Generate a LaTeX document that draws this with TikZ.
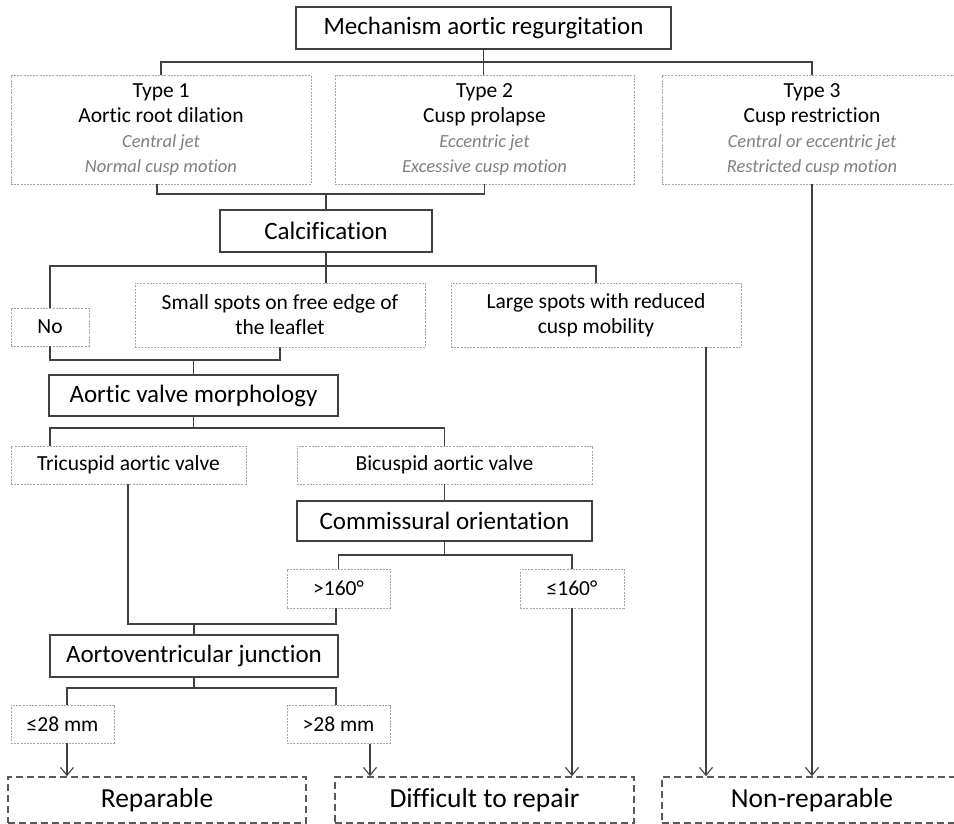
\documentclass[tikz,border=0pt]{standalone}
\usepackage{fontspec}
\setmainfont{Carlito}[Ligatures=NoCommon]
\usetikzlibrary{arrows.meta}
\definecolor{lineC}{HTML}{404040}
\definecolor{dashC}{HTML}{A6A6A6}
\definecolor{bottomC}{HTML}{595959}
\definecolor{italC}{HTML}{7F7F7F}
\tikzset{
  solidbox/.style={draw=lineC, line width=1.3pt, inner sep=0pt, align=center, font=\fontsize{25}{29}\selectfont},
  greybox/.style={draw=dashC, line width=0.8pt, dash pattern=on 2pt off 1.2pt, inner sep=0pt, align=center, font=\fontsize{21.5}{25}\selectfont},
  endbox/.style={draw=bottomC, line width=1.5pt, dash pattern=on 7pt off 4pt, inner sep=0pt, align=center, font=\fontsize{27.5}{32}\selectfont},
  conn/.style={draw=lineC, line width=1.3pt},
  arr/.style={conn, -{Straight Barb[length=8pt,width=13pt,line width=1.1pt]}}
}
\newcommand{\itl}[1]{{\fontsize{18.5}{23}\selectfont\itshape\color{italC}#1}}
\begin{document}
\begin{tikzpicture}[x=1pt,y=-1pt]
\useasboundingbox (0,0) rectangle (954,824);
% nodes
\node[solidbox, minimum width=375, minimum height=42] (top) at (483.5,28) {Mechanism aortic regurgitation};
\node[greybox, minimum width=300, minimum height=109] (t1) at (161,129.5) {Type 1\\Aortic root dilation\\\itl{Central jet}\\\itl{Normal cusp motion}};
\node[greybox, minimum width=299, minimum height=109] (t2) at (484.5,129.5) {Type 2\\Cusp prolapse\\\itl{Eccentric jet}\\\itl{Excessive cusp motion}};
\node[greybox, minimum width=300, minimum height=109] (t3) at (812,129.5) {Type 3\\Cusp restriction\\\itl{Central or eccentric jet}\\\itl{Restricted cusp motion}};
\node[solidbox, minimum width=212, minimum height=42] (calc) at (326,231) {Calcification};
\node[greybox, minimum width=78, minimum height=38] (no) at (50,327) {No};
\node[greybox, minimum width=290, minimum height=64] (small) at (280,315) {Small spots on free edge of\\the leaflet};
\node[greybox, minimum width=290, minimum height=64] (large) at (596,315) {Large spots with reduced\\cusp mobility};
\node[solidbox, minimum width=289, minimum height=41] (avm) at (193.5,395.5) {Aortic valve morphology};
\node[greybox, minimum width=235, minimum height=38] (tri) at (128.5,465) {Tricuspid aortic valve};
\node[greybox, minimum width=295, minimum height=38] (bi) at (444.5,465) {Bicuspid aortic valve};
\node[solidbox, minimum width=295, minimum height=40] (com) at (444.5,521) {Commissural orientation};
\node[greybox, minimum width=103, minimum height=39] (gt160) at (338.5,588.5) {>160°};
\node[greybox, minimum width=104, minimum height=39] (le160) at (572,588.5) {≤160°};
\node[solidbox, minimum width=288, minimum height=42] (avj) at (194,656) {Aortoventricular junction};
\node[greybox, minimum width=103, minimum height=38] (le28) at (62.5,724) {≤28 mm};
\node[greybox, minimum width=103, minimum height=38] (gt28) at (338.5,724.5) {>28 mm};
\node[endbox, minimum width=298, minimum height=46] (rep) at (157,800) {Reparable};
\node[endbox, minimum width=299, minimum height=46] (diff) at (484.5,800) {Difficult to repair};
\node[endbox, minimum width=300, minimum height=46] (nonrep) at (812,800) {Non-reparable};
% junction coordinates
\coordinate (b1) at (484,62);
\coordinate (b2) at (326,194);
\coordinate (b3) at (326,266);
\coordinate (b4) at (193.5,360);
\coordinate (b5) at (193.5,428);
\coordinate (b6) at (444.5,555);
\coordinate (b7) at (194,624);
\coordinate (b8) at (194,688);
\coordinate (t1s) at ([xshift=-4]t1.south);
\coordinate (tris) at ([xshift=-0.5]tri.south);
\coordinate (trin) at ([xshift=-78.5]tri.north);
\coordinate (gt160s) at ([xshift=-2.5]gt160.south);
\coordinate (le28n) at ([xshift=4.5]le28.north);
\coordinate (le28s) at ([xshift=4.5]le28.south);
\coordinate (gt28n) at ([xshift=-2.5]gt28.north);
\coordinate (gt28s) at ([xshift=31.5]gt28.south);
\coordinate (lgs) at ([xshift=110]large.south);
% connectors
\draw[conn] (top.south) -- (top.south |- t2.north);
\draw[conn] (t1.north) |- (b1) -| (t3.north);
\draw[conn] (t1s) |- (b2) -| (t2.south);
\draw[conn] (b2) -- (calc.north);
\draw[conn] (calc.south) -- (calc.south |- small.north);
\draw[conn] (no.north) |- (b3) -| (large.north);
\draw[conn] (no.south) |- (b4) -| (small.south);
\draw[conn] (b4) -- (avm.north);
\draw[conn] (avm.south) -- (b5);
\draw[conn] (trin) |- (b5) -| (bi.north);
\draw[conn] (bi.south) -- (com.north);
\draw[conn] (com.south) -- (b6);
\draw[conn] (gt160.north) |- (b6) -| (le160.north);
\draw[conn] (tris) |- (b7) -| (gt160s);
\draw[conn] (b7) -- (avj.north);
\draw[conn] (avj.south) -- (b8);
\draw[conn] (le28n) |- (b8) -| (gt28n);
\draw[arr] (le28s) -- (le28s |- rep.north);
\draw[arr] (gt28s) -- (gt28s |- diff.north);
\draw[arr] (le160.south) -- (le160.south |- diff.north);
\draw[arr] (lgs) -- (lgs |- nonrep.north);
\draw[arr] (t3.south) -- (nonrep.north);
\end{tikzpicture}
\end{document}
